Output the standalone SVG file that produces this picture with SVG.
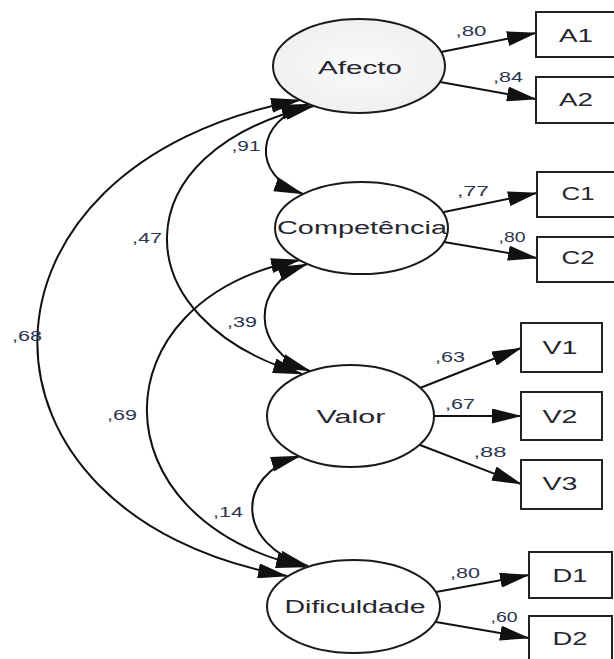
<svg xmlns="http://www.w3.org/2000/svg" width="614" height="659" viewBox="0 0 614 659">
<style>
.ln{fill:none;stroke:#111;stroke-width:2;marker-end:url(#ah)}
.cv{fill:none;stroke:#111;stroke-width:2;marker-start:url(#ah);marker-end:url(#ah)}
.el{fill:#fff;stroke:#1a1a1a;stroke-width:2}
.bx{fill:#fff;stroke:#222;stroke-width:2}
.nt{font-family:"Liberation Sans",Arial,sans-serif;font-size:18px;fill:#26262e;text-anchor:middle}
.lb{font-family:"Liberation Sans",Arial,sans-serif;font-size:14px;fill:#2c3550;text-anchor:middle}
</style>
<defs>
<marker id="ah" viewBox="0 0 30 15" refX="29" refY="7.5" markerWidth="30" markerHeight="15" markerUnits="userSpaceOnUse" orient="auto-start-reverse">
<path d="M0,0 L30,7.5 L0,15 z" fill="#111"/>
</marker>
<radialGradient id="gA" cx="0.5" cy="0.5" r="0.6">
<stop offset="0" stop-color="#fafafa"/>
<stop offset="1" stop-color="#eeeeee"/>
</radialGradient>
</defs>
<rect width="614" height="659" fill="#fff"/>
<g id="connectors">
<path class="ln" d="M441,52 L536,33"/>
<path class="ln" d="M440,82 L536,99"/>
<path class="ln" d="M444,212 L537,193"/>
<path class="ln" d="M444,242 L537,258"/>
<path class="ln" d="M420,388 L521,348"/>
<path class="ln" d="M434,416 L521,416"/>
<path class="ln" d="M420,445 L521,484"/>
<path class="ln" d="M436,592 L529,575"/>
<path class="ln" d="M436,622 L529,638"/>
<path class="cv" d="M310,104 C255,120 250,175 303,194"/>
<path class="cv" d="M307,264 C250,285 250,350 310,371"/>
<path class="cv" d="M300,456 C235,475 235,545 308,566"/>
<path class="cv" d="M300,100 C-48,165 -48,515 287,576"/>
<path class="cv" d="M314,106 C120,150 120,320 302,374"/>
<path class="cv" d="M300,260 C95,300 95,520 305,567"/>
<text class="lb" x="471" y="36" textLength="31" lengthAdjust="spacingAndGlyphs">,80</text>
<text class="lb" x="508" y="82" textLength="30" lengthAdjust="spacingAndGlyphs">,84</text>
<text class="lb" x="473" y="196" textLength="32" lengthAdjust="spacingAndGlyphs">,77</text>
<text class="lb" x="512" y="242" textLength="27" lengthAdjust="spacingAndGlyphs">,80</text>
<text class="lb" x="450" y="362" textLength="30" lengthAdjust="spacingAndGlyphs">,63</text>
<text class="lb" x="460" y="409" textLength="30" lengthAdjust="spacingAndGlyphs">,67</text>
<text class="lb" x="490" y="457" textLength="33" lengthAdjust="spacingAndGlyphs">,88</text>
<text class="lb" x="465" y="578" textLength="30" lengthAdjust="spacingAndGlyphs">,80</text>
<text class="lb" x="504" y="622" textLength="27" lengthAdjust="spacingAndGlyphs">,60</text>
<text class="lb" x="246" y="151" textLength="29" lengthAdjust="spacingAndGlyphs">,91</text>
<text class="lb" x="147" y="243" textLength="30" lengthAdjust="spacingAndGlyphs">,47</text>
<text class="lb" x="242" y="327" textLength="30" lengthAdjust="spacingAndGlyphs">,39</text>
<text class="lb" x="27" y="341" textLength="30" lengthAdjust="spacingAndGlyphs">,68</text>
<text class="lb" x="122" y="420" textLength="30" lengthAdjust="spacingAndGlyphs">,69</text>
<text class="lb" x="228" y="517" textLength="30" lengthAdjust="spacingAndGlyphs">,14</text>
</g>
<g id="Afecto">
<ellipse class="el" cx="359" cy="66" rx="86" ry="47" style="fill:url(#gA)"/>
<text class="nt" x="360" y="74" textLength="84" lengthAdjust="spacingAndGlyphs">Afecto</text>
</g>
<g id="Competencia">
<ellipse class="el" cx="361.5" cy="228" rx="86.5" ry="46"/>
<text class="nt" x="362" y="234" textLength="170" lengthAdjust="spacingAndGlyphs">Competência</text>
</g>
<g id="Valor">
<ellipse class="el" cx="350.5" cy="416" rx="83.5" ry="51"/>
<text class="nt" x="351" y="423" textLength="69" lengthAdjust="spacingAndGlyphs">Valor</text>
</g>
<g id="Dificuldade">
<ellipse class="el" cx="353.5" cy="606.5" rx="86.5" ry="46.5"/>
<text class="nt" x="355" y="613" textLength="141" lengthAdjust="spacingAndGlyphs">Dificuldade</text>
</g>
<g id="A1"><rect class="bx" x="536" y="12" width="90" height="45"/><text class="nt" x="576" y="42" textLength="34" lengthAdjust="spacingAndGlyphs">A1</text></g>
<g id="A2"><rect class="bx" x="536" y="77" width="90" height="46"/><text class="nt" x="576" y="106" textLength="34" lengthAdjust="spacingAndGlyphs">A2</text></g>
<g id="C1"><rect class="bx" x="537" y="172" width="90" height="45"/><text class="nt" x="578" y="200" textLength="33" lengthAdjust="spacingAndGlyphs">C1</text></g>
<g id="C2"><rect class="bx" x="537" y="237" width="90" height="45"/><text class="nt" x="578" y="264" textLength="33" lengthAdjust="spacingAndGlyphs">C2</text></g>
<g id="V1"><rect class="bx" x="521" y="323" width="81" height="49"/><text class="nt" x="560" y="354" textLength="35" lengthAdjust="spacingAndGlyphs">V1</text></g>
<g id="V2"><rect class="bx" x="521" y="392" width="81" height="48"/><text class="nt" x="560" y="423" textLength="35" lengthAdjust="spacingAndGlyphs">V2</text></g>
<g id="V3"><rect class="bx" x="521" y="460" width="81" height="49"/><text class="nt" x="560" y="490" textLength="35" lengthAdjust="spacingAndGlyphs">V3</text></g>
<g id="D1"><rect class="bx" x="529" y="552" width="83" height="46"/><text class="nt" x="570" y="582" textLength="35" lengthAdjust="spacingAndGlyphs">D1</text></g>
<g id="D2"><rect class="bx" x="529" y="616" width="83" height="60"/><text class="nt" x="570" y="645" textLength="35" lengthAdjust="spacingAndGlyphs">D2</text></g>
</svg>
